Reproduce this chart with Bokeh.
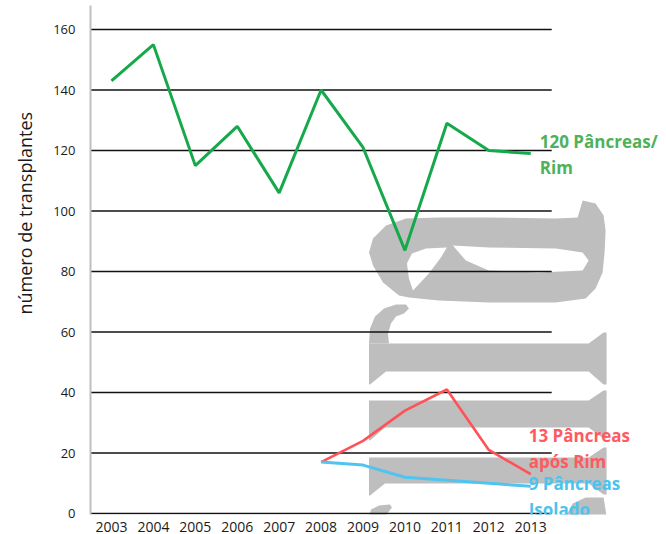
from bokeh.plotting import figure
from bokeh.models import Range1d, Label, FixedTicker, Title
from bokeh.embed import file_html
from bokeh.resources import INLINE

# ---------------- data ----------------
years = [2003, 2004, 2005, 2006, 2007, 2008, 2009, 2010, 2011, 2012, 2013]
pancreas_rim = [143, 155, 115, 128, 106, 140, 121, 87, 129, 120, 119]

years_recent = [2008, 2009, 2010, 2011, 2012, 2013]
pancreas_apos_rim = [17, 24, 34, 41, 21, 13]
pancreas_isolado = [17, 16, 12, 11, 10, 9]

y_ticks = [0, 20, 40, 60, 80, 100, 120, 140, 160]
label_rim = "120 Pâncreas/\nRim"
label_apos = "13 Pâncreas\napós Rim"
label_isolado = "9 Pâncreas\nIsolado"
y_title = "número de transplantes"

# ---------------- figure ----------------
W, H = 666, 534
B_LEFT, B_TOP, B_BOTTOM = 89, 5, 20
frame_w = W - B_LEFT
frame_h = H - B_TOP - B_BOTTOM
px_per_year = 42.0
px_per_unit = 3.025
x0 = years[0] - 0.5
y0 = -1.0 / px_per_unit

p = figure(width=W, height=H, output_backend="svg", toolbar_location=None,
           x_range=Range1d(x0, x0 + frame_w / px_per_year),
           y_range=Range1d(y0, y0 + frame_h / px_per_unit),
           min_border_left=B_LEFT, min_border_right=0, min_border_top=B_TOP,
           min_border_bottom=B_BOTTOM)
p.outline_line_color = None
p.grid.visible = False
p.background_fill_color = "white"

# pixel-space ranges for the decorative watermark
p.extra_x_ranges = {"px": Range1d(B_LEFT, W)}
p.extra_y_ranges = {"py": Range1d(B_TOP + frame_h, B_TOP)}

# ---------------- watermark (decorative, beneath the data) ----------------
GREY = "#bebebe"
a_outer = [(582, 200), (595, 203), (603, 215), (605, 230), (604, 252), (602, 272), (595, 288),
           (585, 298), (555, 302), (488, 302), (438, 300), (408, 297), (398, 295), (382, 282),
           (372, 265), (368, 252), (372, 238), (385, 225), (405, 218), (438, 217), (488, 217),
           (555, 218), (577, 217)]
a_counter = [(452, 245), (488, 247), (555, 248), (582, 252), (588, 260), (582, 270), (538, 272),
             (488, 270), (465, 260)]
a_wedge = [(446, 247), (425, 248), (411, 253), (406, 263), (408, 278), (412, 290), (428, 273),
           (440, 257)]
r_stem = [(368, 343), (588, 343), (603, 332), (606, 332), (606, 384), (603, 384), (588, 371),
          (385, 371), (369, 384), (368, 384)]
r_hook = [(368, 343), (369, 328), (374, 316), (383, 308), (395, 304), (405, 304), (408, 308),
          (403, 313), (395, 316), (390, 323), (387, 333), (388, 343)]
bar2 = [(368, 400), (588, 400), (603, 390), (606, 390), (606, 438), (603, 438), (588, 427),
        (384, 427), (369, 440), (368, 440)]
bar3 = [(368, 457), (588, 457), (603, 447), (606, 447), (606, 494), (603, 494), (588, 483),
        (384, 483), (369, 495), (368, 495)]
bottom_curve = [(565, 516), (572, 503), (585, 497), (603, 497), (606, 516)]
bottom_hook = [(368, 516), (370, 509), (378, 505), (389, 504), (391, 507), (384, 516)]


def ring(pts, k):
    return [pt[k] for pt in pts]


shapes = [[a_outer, a_counter, a_wedge], [r_stem], [r_hook], [bar2], [bar3],
          [bottom_curve], [bottom_hook]]
p.multi_polygons(xs=[[[ring(r, 0) for r in s]] for s in shapes],
                 ys=[[[ring(r, 1) for r in s]] for s in shapes],
                 x_range_name="px", y_range_name="py",
                 fill_color=GREY, line_color=None)

# ---------------- gridlines ----------------
p.segment(x0=[years[0] - 0.5] * len(y_ticks), x1=[years[-1] + 0.5] * len(y_ticks),
          y0=y_ticks, y1=y_ticks, line_color="#111111", line_width=1.6)

# ---------------- series ----------------
GREEN, RED, BLUE = "#16a94b", "#ff5258", "#4fc4ef"
p.line(years, pancreas_rim, line_color=GREEN, line_width=3)
p.line(years_recent, pancreas_apos_rim, line_color=RED, line_width=2.6)
p.line(years_recent, pancreas_isolado, line_color=BLUE, line_width=3)

# ---------------- axes ----------------
p.yaxis.ticker = FixedTicker(ticks=y_ticks)
p.yaxis.axis_line_color = "#bfbfbf"
p.yaxis.axis_line_width = 2
p.yaxis.major_tick_line_color = None
p.yaxis.minor_tick_line_color = None
p.yaxis.major_label_standoff = 9
p.yaxis.major_label_text_font = "Open Sans"
p.yaxis.major_label_text_font_size = "13px"
p.yaxis.major_label_text_color = "#1a1a1a"

p.xaxis.ticker = FixedTicker(ticks=years)
p.xaxis.axis_line_color = None
p.xaxis.major_tick_line_color = None
p.xaxis.minor_tick_line_color = None
p.xaxis.major_label_standoff = 1
p.xaxis.major_label_text_font = "Open Sans"
p.xaxis.major_label_text_font_size = "14px"
p.xaxis.major_label_text_color = "#1a1a1a"

# y title (left-side title, positioned toward the upper part like the original)
p.add_layout(Title(text=y_title, align="left", offset=200, standoff=24, vertical_align="top",
                   text_font="Open Sans", text_font_size="18px",
                   text_font_style="normal", text_color="#1a1a1a"), "left")

# series labels
for txt, xs, ys, col, dx, dy in [
    (label_rim, years, pancreas_rim, "#4db25a", 9, 24),
    (label_apos, years_recent, pancreas_apos_rim, "#ff5a60", -2, 50),
    (label_isolado, years_recent, pancreas_isolado, "#4cc3ee", -2, 14),
]:
    p.add_layout(Label(x=xs[-1], y=ys[-1], text=txt, x_offset=dx, y_offset=dy,
                       text_align="left", text_baseline="top", text_line_height=1.13,
                       text_font="Open Sans", text_font_style="bold",
                       text_font_size="17px", text_color=col))

open("out.html", "w").write(file_html(p, INLINE))
